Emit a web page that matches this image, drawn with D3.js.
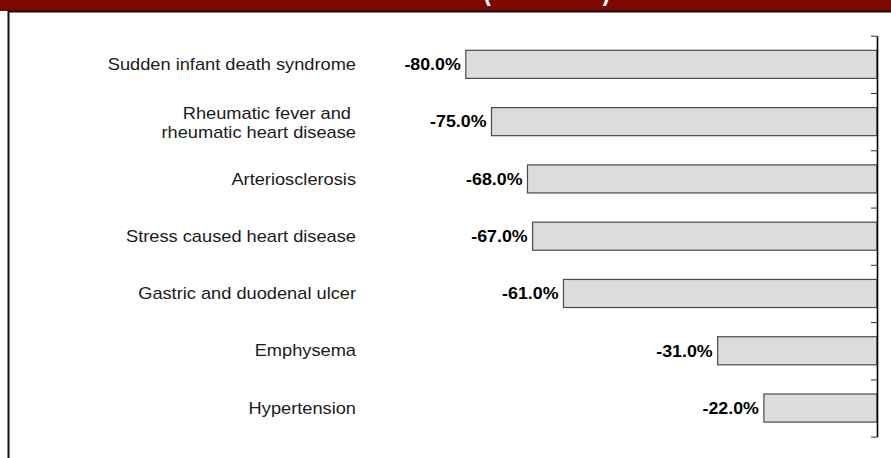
<!DOCTYPE html>
<html>
<head>
  <script src="https://d3js.org/d3.v7.min.js"></script>
  <style>
    body { margin: 0; background: #fff; }
    svg { display: block; font-family: "Liberation Sans", Arial, sans-serif; }
  </style>
</head>
<body>
  <svg width="891" height="458"></svg>
  <script>
    // chart data
    var categories = [
      "Sudden infant death syndrome",
      "Rheumatic fever and |rheumatic heart disease",
      "Arteriosclerosis",
      "Stress caused heart disease",
      "Gastric and duodenal ulcer",
      "Emphysema",
      "Hypertension"
    ];
    var values = [-80, -75, -68, -67, -61, -31, -22];
    var titleMain = "Decline in Death Rates";
    var titleParen = "(1980\u20132000)";

    var data = categories.map(function(c, i) { return {name: c, value: values[i]}; });

    var svg = d3.select("svg");
    var sx = 1.14; // text in the source is stretched horizontally

    // title band and frame
    svg.append("rect").attr("x", 0).attr("y", 0).attr("width", 891).attr("height", 11)
      .attr("fill", "#7d0800");
    svg.append("path").attr("d", "M8.5,458 V11.5 H891")
      .attr("fill", "none").attr("stroke", "#111").attr("stroke-width", 2);

    // title sits above the visible area, only the parentheses' lower ends show
    var tg = svg.append("g").attr("transform", "translate(477,0) scale(1.18,1.6)");
    var tmp = tg.append("text").style("font-size", "19px").style("font-weight", "bold")
      .text(titleMain + " ");
    var preW = tmp.node().getComputedTextLength();
    tmp.remove();
    tg.append("text").attr("x", -preW).attr("fill", "#fff")
      .style("font-size", "19px").style("font-weight", "bold")
      .text(titleMain + " " + titleParen);

    var x = d3.scaleLinear().domain([-100, 0]).range([363, 877]);
    var y = d3.scaleBand().domain(categories).range([35.7, 436.7])
      .paddingInner(0.51).paddingOuter(0.255);

    // bars
    svg.selectAll(".bar").data(data).enter().append("rect")
      .attr("class", "bar")
      .attr("x", function(d) { return x(d.value); })
      .attr("y", function(d) { return y(d.name); })
      .attr("width", function(d) { return x(0) - x(d.value); })
      .attr("height", y.bandwidth())
      .attr("fill", "#dcdcdc")
      .attr("stroke", "#4a4a4a")
      .attr("stroke-width", 1.2);

    // axis with ticks at band boundaries
    var yb = d3.scaleLinear().domain([0, categories.length]).range([35.7, 436.7]);
    var axis = svg.append("g").attr("transform", "translate(877,0)")
      .call(d3.axisLeft(yb).tickValues(d3.range(categories.length + 1))
        .tickSize(6).tickSizeOuter(0).tickFormat(""));
    axis.select(".domain").attr("stroke", "#000").attr("stroke-width", 1.6);
    axis.selectAll(".tick line").attr("stroke", "#333");

    // category labels
    svg.selectAll(".cat").data(data).enter().append("g")
      .attr("class", "cat")
      .attr("transform", function(d) {
        return "translate(356," + (y(d.name) + y.bandwidth() / 2) + ") scale(" + sx + ",1)";
      })
      .each(function(d) {
        var lines = d.name.split("|");
        var t = d3.select(this).append("text")
          .attr("text-anchor", "end")
          .attr("fill", "#1a1a1a")
          .style("font-size", "16px");
        if (lines.length === 1) {
          t.attr("dy", "0.35em").text(lines[0]);
        } else {
          lines.forEach(function(l, i) {
            t.append("tspan").attr("x", 0).attr("y", -3 + i * 19)
              .attr("xml:space", "preserve").text(l);
          });
        }
      });

    // value labels
    svg.selectAll(".val").data(data).enter().append("text")
      .attr("class", "val")
      .attr("text-anchor", "end")
      .attr("dy", "0.35em")
      .attr("transform", function(d) {
        return "translate(" + (x(d.value) - 5) + "," + (y(d.name) + y.bandwidth() / 2) + ") scale(1.08,1)";
      })
      .style("font-size", "16.5px")
      .style("font-weight", "bold")
      .text(function(d) { return d.value.toFixed(1) + "%"; });
  </script>
</body>
</html>
